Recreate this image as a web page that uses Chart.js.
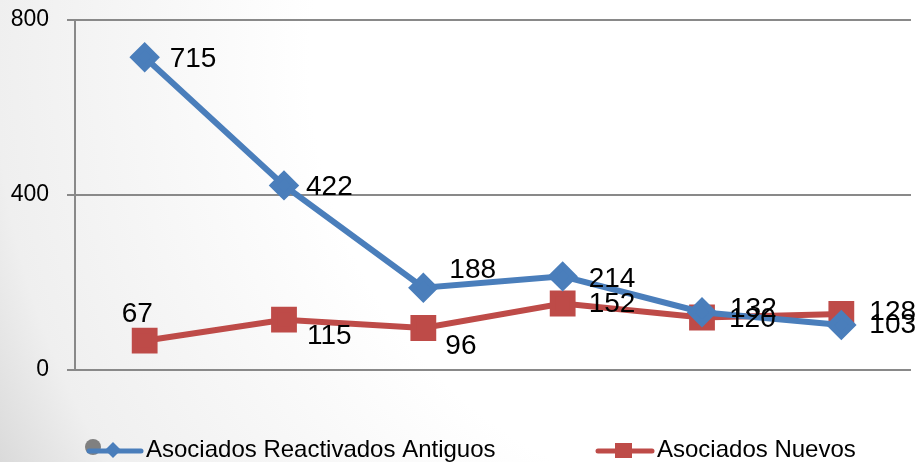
<!DOCTYPE html>
<html>
<head>
<meta charset="utf-8">
<script src="https://cdn.jsdelivr.net/npm/chart.js@4.4.1/dist/chart.umd.min.js"></script>
<style>
    body { margin: 0; }
    #wrap { width: 918px; height: 462px; position: relative; }
</style>
</head>
<body>
<div id="wrap"><canvas id="lineOutput"></canvas></div>
<script>
// Chart values
var categories = ['1', '2', '3', '4', '5', '6'];
var reactivados = [715, 422, 188, 214, 132, 103];
var nuevos = [67, 115, 96, 152, 120, 128];
var yTicks = [0, 400, 800];
var seriesNames = ['Asociados Reactivados Antiguos', 'Asociados Nuevos'];

// Where each value label sits relative to its point (left edge, middle)
var reactivadosLabelOffsets = [[25, 2], [22, 2], [26, -17], [26, 3], [28, -3], [28, 0]];
var nuevosLabelOffsets = [[-23, -26], [23, 17], [22, 18], [26, 1], [27, 2], [28, -2]];

var blue = '#4A7EBB';
var red = '#BE4B48';
var gridColor = '#898989';

Chart.defaults.font.family = "'Liberation Sans', Arial, sans-serif";
Chart.defaults.color = '#000';

// Soft grey background like the original
var backgroundPlugin = {
    id: 'backgroundPlugin',
    beforeDraw: function (chart) {
        var ctx = chart.ctx;
        var g = ctx.createRadialGradient(760, 60, 0, 760, 60, 900);
        g.addColorStop(0, '#ffffff');
        g.addColorStop(0.5, '#ffffff');
        g.addColorStop(0.85, '#efefef');
        g.addColorStop(0.96, '#d9d9d9');
        g.addColorStop(1, '#d4d4d4');
        ctx.save();
        ctx.fillStyle = g;
        ctx.fillRect(0, 0, chart.width, chart.height);
        ctx.restore();
    }
};

// Value labels next to each point
var valueLabelPlugin = {
    id: 'valueLabelPlugin',
    afterDatasetsDraw: function (chart) {
        var ctx = chart.ctx;
        var offsets = [reactivadosLabelOffsets, nuevosLabelOffsets];
        ctx.save();
        ctx.font = "28px 'Liberation Sans', Arial, sans-serif";
        ctx.fillStyle = '#000';
        ctx.textAlign = 'left';
        ctx.textBaseline = 'middle';
        chart.data.datasets.forEach(function (ds, di) {
            var meta = chart.getDatasetMeta(di);
            meta.data.forEach(function (pt, i) {
                var off = offsets[di][i];
                ctx.fillText(String(ds.data[i]), pt.x + off[0], pt.y + off[1]);
            });
        });
        ctx.restore();
    }
};

// Legend drawn by hand so the line + marker look like the original
var legendPlugin = {
    id: 'legendPlugin',
    afterDraw: function (chart) {
        var ctx = chart.ctx;
        var y = 450;
        ctx.save();
        // stray grey dot seen in the original legend
        ctx.fillStyle = '#808080';
        ctx.beginPath();
        ctx.arc(93, 447, 8, 0, Math.PI * 2);
        ctx.fill();

        ctx.lineCap = 'round';
        ctx.lineWidth = 5;
        ctx.strokeStyle = blue;
        ctx.beginPath();
        ctx.moveTo(89, y + 1);
        ctx.lineTo(141, y + 1);
        ctx.stroke();
        ctx.fillStyle = blue;
        ctx.beginPath();
        ctx.moveTo(113, y - 8);
        ctx.lineTo(121, y);
        ctx.lineTo(113, y + 8);
        ctx.lineTo(105, y);
        ctx.closePath();
        ctx.fill();

        ctx.strokeStyle = red;
        ctx.beginPath();
        ctx.moveTo(598, y + 1);
        ctx.lineTo(652, y + 1);
        ctx.stroke();
        ctx.fillStyle = red;
        ctx.fillRect(615, y - 7, 17, 15);

        ctx.fillStyle = '#000';
        ctx.font = "24px 'Liberation Sans', Arial, sans-serif";
        ctx.textBaseline = 'middle';
        ctx.fillText(seriesNames[0], 146, y);
        ctx.fillText(seriesNames[1], 657, y);
        ctx.restore();
    }
};

var ctx = document.getElementById('lineOutput').getContext('2d');
var lineChart = new Chart(ctx, {
    type: 'line',
    data: {
        labels: categories,
        datasets: [
            {
                label: seriesNames[0],
                data: reactivados,
                borderColor: blue,
                backgroundColor: blue,
                borderWidth: 6,
                pointStyle: 'rectRot',
                pointRadius: 11,
                pointHoverRadius: 11,
                tension: 0
            },
            {
                label: seriesNames[1],
                data: nuevos,
                borderColor: red,
                backgroundColor: red,
                borderWidth: 6,
                pointStyle: 'rect',
                pointRadius: 14,
                pointHoverRadius: 14,
                tension: 0
            }
        ]
    },
    options: {
        responsive: true,
        maintainAspectRatio: false,
        animation: false,
        layout: {
            autoPadding: false,
            padding: { left: 0, right: 7, top: 20, bottom: 92 }
        },
        plugins: {
            legend: { display: false },
            tooltip: { enabled: false }
        },
        scales: {
            x: {
                display: false,
                offset: true
            },
            y: {
                min: 0,
                max: 800,
                afterBuildTicks: function (scale) {
                    scale.ticks = yTicks.map(function (v) { return { value: v }; });
                },
                afterFit: function (scale) {
                    scale.width = 75;
                    scale.paddingTop = 0;
                    scale.paddingBottom = 0;
                },
                ticks: {
                    padding: 18,
                    font: { size: 23 },
                    color: '#000'
                },
                grid: {
                    color: gridColor,
                    lineWidth: 2,
                    tickLength: 8
                },
                border: {
                    color: gridColor,
                    width: 2
                }
            }
        }
    },
    plugins: [backgroundPlugin, valueLabelPlugin, legendPlugin]
});
</script>
</body>
</html>
